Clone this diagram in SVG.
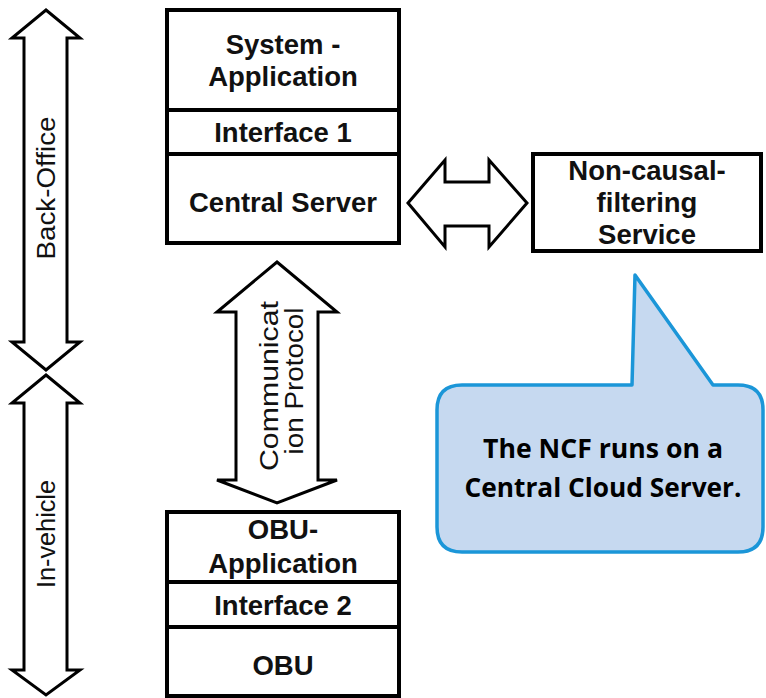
<svg xmlns="http://www.w3.org/2000/svg" width="766" height="698" viewBox="0 0 766 698">
<style>
.box{fill:#fff;stroke:#000;stroke-width:4}
.div{stroke:#000;stroke-width:4}
.arr{fill:#fff;stroke:#000;stroke-width:3;stroke-linejoin:miter}
.bt{font-family:"Liberation Sans",Arial,sans-serif;font-weight:bold;font-size:27.5px;fill:#111;text-anchor:middle}
.rt{font-family:"Liberation Sans",Arial,sans-serif;font-size:25px;fill:#111;text-anchor:middle}
.ct{font-family:"Open Sans","Noto Sans",sans-serif;font-weight:bold;font-size:27px;fill:#000;text-anchor:middle}
</style>
<rect width="766" height="698" fill="#fff"/>
<g id="connectors">
<path class="arr" d="M46,10 L80,38 L67,38 L67,342 L80,342 L46,370 L12,342 L24,342 L24,38 L12,38 Z"/>
<path class="arr" d="M46,375 L80,403 L67,403 L67,670 L80,670 L46,695 L12,670 L24,670 L24,403 L12,403 Z"/>
<path class="arr" d="M277,262 L337,312 L318,312 L318,480 L337,480 L277,503 L217,480 L236,480 L236,312 L217,312 Z"/>
<path class="arr" d="M408,203 L445,160 L445,182 L489,182 L489,160 L527,203 L489,247 L489,226 L445,226 L445,247 Z"/>
<text class="rt" transform="translate(55,188) rotate(-90)" textLength="143" lengthAdjust="spacingAndGlyphs">Back-Office</text>
<text class="rt" transform="translate(55,534) rotate(-90)" textLength="108" lengthAdjust="spacingAndGlyphs">In-vehicle</text>
<text class="rt" transform="translate(278,386) rotate(-90)" textLength="170" lengthAdjust="spacingAndGlyphs">Communicat</text>
<text class="rt" transform="translate(303,381) rotate(-90)" textLength="147" lengthAdjust="spacingAndGlyphs">ion Protocol</text>
</g>
<g id="central">
<rect class="box" x="167" y="10" width="232" height="233"/>
<line class="div" x1="167" y1="110" x2="399" y2="110"/>
<line class="div" x1="167" y1="154" x2="399" y2="154"/>
<text class="bt" x="283" y="54">System -</text>
<text class="bt" x="283" y="86">Application</text>
<text class="bt" x="283" y="142">Interface 1</text>
<text class="bt" x="283" y="212">Central Server</text>
</g>
<g id="ncf">
<rect class="box" x="533" y="154" width="228" height="97"/>
<text class="bt" x="647" y="180">Non-causal-</text>
<text class="bt" x="647" y="212">filtering</text>
<text class="bt" x="647" y="244">Service</text>
</g>
<g id="obu">
<rect class="box" x="167" y="512" width="232" height="184"/>
<line class="div" x1="167" y1="582" x2="399" y2="582"/>
<line class="div" x1="167" y1="627" x2="399" y2="627"/>
<text class="bt" x="283" y="539">OBU-</text>
<text class="bt" x="283" y="573">Application</text>
<text class="bt" x="283" y="615">Interface 2</text>
<text class="bt" x="283" y="675">OBU</text>
</g>
<g id="callout">
<path d="M462,385 L632,385 L635,275 L713,385 L738,385 Q763,385 763,410 L763,527 Q763,552 738,552 L462,552 Q437,552 437,527 L437,410 Q437,385 462,385 Z" fill="#c6d9f0" stroke="#1b96d8" stroke-width="3.5" stroke-linejoin="round"/>
<text class="ct" x="603" y="458" textLength="240" lengthAdjust="spacingAndGlyphs">The NCF runs on a</text>
<text class="ct" x="603" y="497" textLength="277" lengthAdjust="spacingAndGlyphs">Central Cloud Server.</text>
</g>
</svg>
